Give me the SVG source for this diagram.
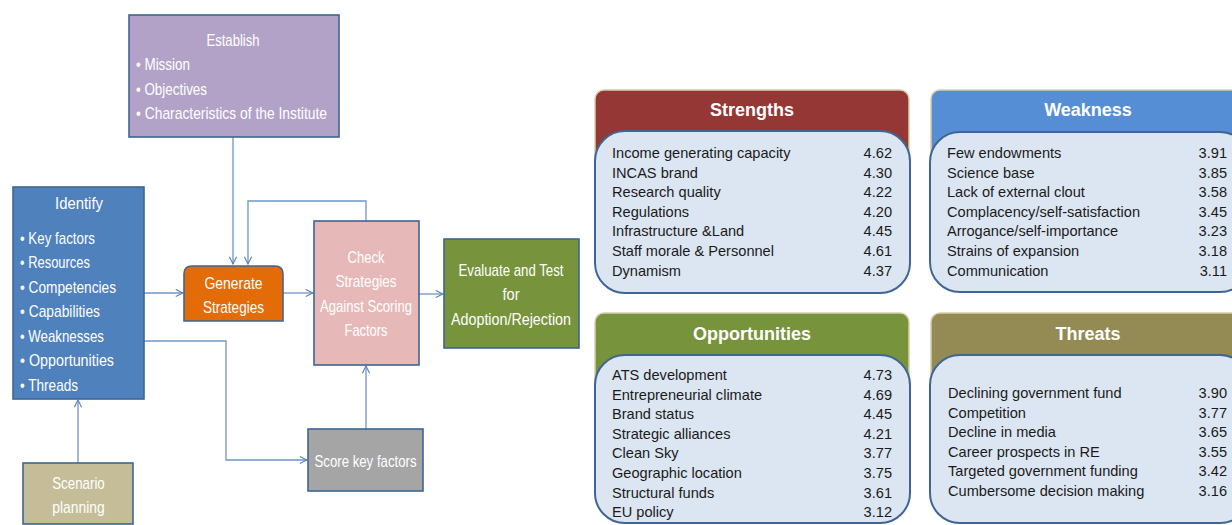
<svg xmlns="http://www.w3.org/2000/svg" width="1232" height="525" viewBox="0 0 1232 525">
<defs>
<marker id="arr" viewBox="0 0 10 10" refX="9" refY="5" markerWidth="9" markerHeight="9" markerUnits="userSpaceOnUse" orient="auto">
<path d="M1,1 L9,5 L1,9" fill="none" stroke="#4f81bd" stroke-width="1.2"/>
</marker>
</defs>
<style>
.box{stroke:#3f6594;stroke-width:1.6}
.wt{font-family:"Liberation Sans",sans-serif;font-size:17px;fill:#ffffff}
.c{text-anchor:middle}
.conn{fill:none;stroke:#6f95c8;stroke-width:1.3}
.hdr{stroke:#d8cfa8;stroke-width:1.5}
.inner{fill:#dce6f2;stroke:#3f6594;stroke-width:2}
.ttl{font-family:"Liberation Sans",sans-serif;font-weight:bold;font-size:18px;fill:#ffffff;text-anchor:middle}
.it{font-family:"Liberation Sans",sans-serif;font-size:14.6px;fill:#1a1a1a}
.num{font-family:"Liberation Sans",sans-serif;font-size:14.6px;fill:#1a1a1a;text-anchor:end}
</style>
<rect width="1232" height="525" fill="#ffffff"/>

<g id="connectors">
<path class="conn" d="M233,137 V264" marker-end="url(#arr)"/>
<path class="conn" d="M366,221 V201 H248 V264" marker-end="url(#arr)"/>
<path class="conn" d="M144,293 H183" marker-end="url(#arr)"/>
<path class="conn" d="M283,293 H313" marker-end="url(#arr)"/>
<path class="conn" d="M419,294 H443" marker-end="url(#arr)"/>
<path class="conn" d="M144,341 H226 V460 H307" marker-end="url(#arr)"/>
<path class="conn" d="M366,429 V366" marker-end="url(#arr)"/>
<path class="conn" d="M78,463 V400" marker-end="url(#arr)"/>
</g>

<g id="establish">
<rect class="box" x="129" y="15" width="210" height="122" fill="#b3a2c7"/>
<text class="wt c" x="233" y="46" textLength="53" lengthAdjust="spacingAndGlyphs">Establish</text>
<text class="wt" x="136" y="70" textLength="54" lengthAdjust="spacingAndGlyphs">• Mission</text>
<text class="wt" x="136" y="95" textLength="71" lengthAdjust="spacingAndGlyphs">• Objectives</text>
<text class="wt" x="136" y="119" textLength="191" lengthAdjust="spacingAndGlyphs">• Characteristics of the Institute</text>
</g>

<g id="identify">
<rect class="box" x="13" y="187" width="131" height="212" fill="#4f81bd"/>
<text class="wt c" x="79" y="209" textLength="48" lengthAdjust="spacingAndGlyphs">Identify</text>
<text class="wt" x="20" y="244" textLength="75" lengthAdjust="spacingAndGlyphs">• Key factors</text>
<text class="wt" x="20" y="268" textLength="70" lengthAdjust="spacingAndGlyphs">• Resources</text>
<text class="wt" x="20" y="293" textLength="96" lengthAdjust="spacingAndGlyphs">• Competencies</text>
<text class="wt" x="20" y="317" textLength="80" lengthAdjust="spacingAndGlyphs">• Capabilities</text>
<text class="wt" x="20" y="342" textLength="84" lengthAdjust="spacingAndGlyphs">• Weaknesses</text>
<text class="wt" x="20" y="366" textLength="94" lengthAdjust="spacingAndGlyphs">• Opportunities</text>
<text class="wt" x="20" y="391" textLength="58" lengthAdjust="spacingAndGlyphs">• Threads</text>
</g>

<g id="generate">
<path class="box" d="M184,321 V274 Q184,266 192,266 H275 Q283,266 283,274 V321 Z" fill="#e36c09"/>
<text class="wt c" x="233.5" y="289" textLength="58" lengthAdjust="spacingAndGlyphs">Generate</text>
<text class="wt c" x="233.5" y="313" textLength="61" lengthAdjust="spacingAndGlyphs">Strategies</text>
</g>

<g id="check">
<rect class="box" x="314" y="221" width="105" height="144" fill="#e6b9b8"/>
<text class="wt c" x="366" y="263" textLength="37" lengthAdjust="spacingAndGlyphs">Check</text>
<text class="wt c" x="366" y="287" textLength="61" lengthAdjust="spacingAndGlyphs">Strategies</text>
<text class="wt c" x="366" y="312" textLength="92" lengthAdjust="spacingAndGlyphs">Against Scoring</text>
<text class="wt c" x="366" y="336" textLength="43" lengthAdjust="spacingAndGlyphs">Factors</text>
</g>

<g id="evaluate">
<rect class="box" x="444" y="239" width="135" height="109" fill="#77933c"/>
<text class="wt c" x="511" y="276" textLength="105" lengthAdjust="spacingAndGlyphs">Evaluate and Test</text>
<text class="wt c" x="511" y="300" textLength="17" lengthAdjust="spacingAndGlyphs">for</text>
<text class="wt c" x="511" y="325" textLength="120" lengthAdjust="spacingAndGlyphs">Adoption/Rejection</text>
</g>

<g id="score">
<rect class="box" x="308" y="429" width="115" height="62" fill="#a5a5a5"/>
<text class="wt c" x="365.5" y="467" textLength="102" lengthAdjust="spacingAndGlyphs">Score key factors</text>
</g>

<g id="scenario">
<rect class="box" x="23" y="463" width="110" height="61" fill="#c4bd97"/>
<text class="wt c" x="78.5" y="489" textLength="52.5" lengthAdjust="spacingAndGlyphs">Scenario</text>
<text class="wt c" x="78.5" y="513" textLength="52.5" lengthAdjust="spacingAndGlyphs">planning</text>
</g>

<g id="strengths">
<rect class="hdr" x="595" y="90" width="314" height="110" rx="9" fill="#953735"/>
<text class="ttl" x="752" y="116">Strengths</text>
<rect class="inner" x="595" y="131" width="315" height="162" rx="30"/>
<text class="it" x="612" y="158">Income generating capacity</text><text class="num" x="892" y="158">4.62</text>
<text class="it" x="612" y="177.6">INCAS brand</text><text class="num" x="892" y="177.6">4.30</text>
<text class="it" x="612" y="197.2">Research quality</text><text class="num" x="892" y="197.2">4.22</text>
<text class="it" x="612" y="216.8">Regulations</text><text class="num" x="892" y="216.8">4.20</text>
<text class="it" x="612" y="236.4">Infrastructure &amp;Land</text><text class="num" x="892" y="236.4">4.45</text>
<text class="it" x="612" y="256">Staff morale &amp; Personnel</text><text class="num" x="892" y="256">4.61</text>
<text class="it" x="612" y="275.6">Dynamism</text><text class="num" x="892" y="275.6">4.37</text>
</g>

<g id="weakness">
<rect class="hdr" x="931" y="90" width="320" height="110" rx="9" fill="#558ed5"/>
<text class="ttl" x="1088" y="116">Weakness</text>
<rect class="inner" x="930" y="132" width="320" height="160" rx="30"/>
<text class="it" x="947" y="158">Few endowments</text><text class="num" x="1227" y="158">3.91</text>
<text class="it" x="947" y="177.6">Science base</text><text class="num" x="1227" y="177.6">3.85</text>
<text class="it" x="947" y="197.2">Lack of external clout</text><text class="num" x="1227" y="197.2">3.58</text>
<text class="it" x="947" y="216.8">Complacency/self-satisfaction</text><text class="num" x="1227" y="216.8">3.45</text>
<text class="it" x="947" y="236.4">Arrogance/self-importance</text><text class="num" x="1227" y="236.4">3.23</text>
<text class="it" x="947" y="256">Strains of expansion</text><text class="num" x="1227" y="256">3.18</text>
<text class="it" x="947" y="275.6">Communication</text><text class="num" x="1227" y="275.6">3.11</text>
</g>

<g id="opportunities">
<rect class="hdr" x="595" y="313" width="314" height="110" rx="9" fill="#77933c"/>
<text class="ttl" x="752" y="340">Opportunities</text>
<rect class="inner" x="595" y="355" width="315" height="168" rx="30"/>
<text class="it" x="612" y="380">ATS development</text><text class="num" x="892" y="380">4.73</text>
<text class="it" x="612" y="399.6">Entrepreneurial climate</text><text class="num" x="892" y="399.6">4.69</text>
<text class="it" x="612" y="419.2">Brand status</text><text class="num" x="892" y="419.2">4.45</text>
<text class="it" x="612" y="438.8">Strategic alliances</text><text class="num" x="892" y="438.8">4.21</text>
<text class="it" x="612" y="458.4">Clean Sky</text><text class="num" x="892" y="458.4">3.77</text>
<text class="it" x="612" y="478">Geographic location</text><text class="num" x="892" y="478">3.75</text>
<text class="it" x="612" y="497.6">Structural funds</text><text class="num" x="892" y="497.6">3.61</text>
<text class="it" x="612" y="517.2">EU policy</text><text class="num" x="892" y="517.2">3.12</text>
</g>

<g id="threats">
<rect class="hdr" x="931" y="313" width="320" height="110" rx="9" fill="#948a54"/>
<text class="ttl" x="1088" y="340">Threats</text>
<rect class="inner" x="930" y="355" width="320" height="168" rx="30"/>
<text class="it" x="948" y="398">Declining government fund</text><text class="num" x="1227" y="398">3.90</text>
<text class="it" x="948" y="417.6">Competition</text><text class="num" x="1227" y="417.6">3.77</text>
<text class="it" x="948" y="437.2">Decline in media</text><text class="num" x="1227" y="437.2">3.65</text>
<text class="it" x="948" y="456.8">Career prospects in RE</text><text class="num" x="1227" y="456.8">3.55</text>
<text class="it" x="948" y="476.4">Targeted government funding</text><text class="num" x="1227" y="476.4">3.42</text>
<text class="it" x="948" y="496">Cumbersome decision making</text><text class="num" x="1227" y="496">3.16</text>
</g>
</svg>
